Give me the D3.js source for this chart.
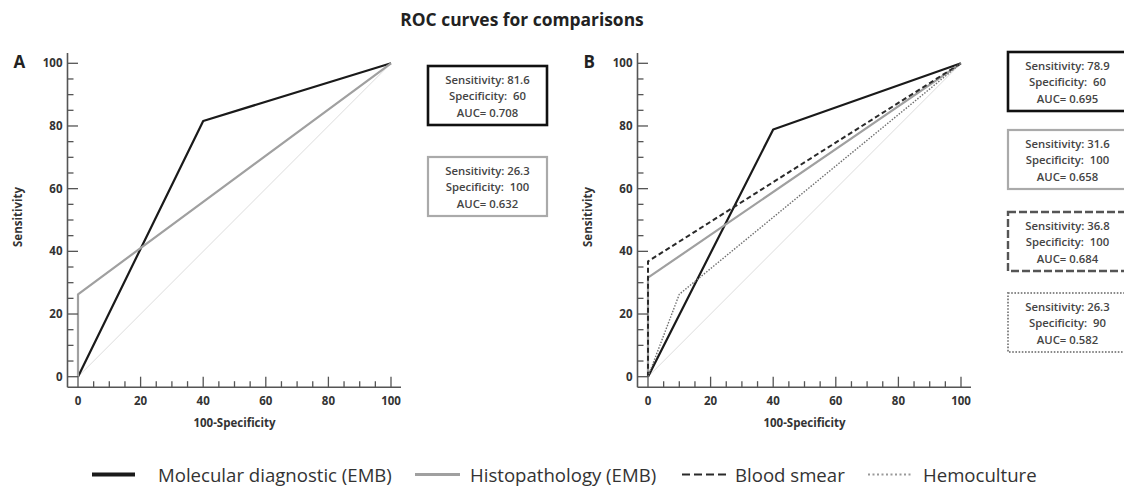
<!DOCTYPE html>
<html>
<head>
<meta charset="utf-8">
<script src="https://cdn.jsdelivr.net/npm/d3@7"></script>
<style>
  body { margin: 0; background: #fff; }
  svg { display: block; font-family: "Open Sans", "Noto Sans", sans-serif; }
</style>
</head>
<body>
<div id="chart"></div>
<script>
// ROC curves — two panels
const xMajor = [0, 20, 40, 60, 80, 100];
const yMajor = [0, 20, 40, 60, 80, 100];

const seriesNames = ['Molecular diagnostic (EMB)', 'Histopathology (EMB)', 'Blood smear', 'Hemoculture'];

// panel A
const molecularA = [[0, 0], [40, 81.6], [100, 100]];
const histoA = [[0, 0], [0, 26.3], [100, 100]];
const statsA = [
  ['Sensitivity: 81.6', 'Specificity:  60', 'AUC= 0.708'],
  ['Sensitivity: 26.3', 'Specificity:  100', 'AUC= 0.632']
];

// panel B
const molecularB = [[0, 0], [40, 78.9], [100, 100]];
const histoB = [[0, 0], [0, 31.6], [100, 100]];
const bloodB = [[0, 0], [0, 36.8], [100, 100]];
const hemoB = [[0, 0], [10, 26.3], [100, 100]];
const statsB = [
  ['Sensitivity: 78.9', 'Specificity:  60', 'AUC= 0.695'],
  ['Sensitivity: 31.6', 'Specificity:  100', 'AUC= 0.658'],
  ['Sensitivity: 36.8', 'Specificity:  100', 'AUC= 0.684'],
  ['Sensitivity: 26.3', 'Specificity:  90', 'AUC= 0.582']
];

const diagonal = [[0, 0], [100, 100]];

const STYLES = {
  molecular: { stroke: '#1a1a1a', width: 2.2, dash: null },
  histo: { stroke: '#a0a0a0', width: 2.2, dash: null },
  blood: { stroke: '#2a2a2a', width: 2, dash: '5,3' },
  hemo: { stroke: '#707070', width: 1.4, dash: '1.5,1.5' },
  diag: { stroke: '#dcdcdc', width: 1, dash: null }
};

// box outline per series
const BOX = {
  molecular: { stroke: '#111', width: 2.6, dash: null },
  histo: { stroke: '#aaa', width: 2.2, dash: null },
  blood: { stroke: '#555', width: 2.4, dash: '8,3' },
  hemo: { stroke: '#8a8a8a', width: 2, dash: '1.6,1.6' }
};

const W = 1124, H = 487;
const svg = d3.select('#chart').append('svg')
  .attr('width', W).attr('height', H);

svg.append('text')
  .attr('x', 522).attr('y', 26)
  .attr('text-anchor', 'middle')
  .attr('font-size', 17.4).attr('font-weight', 'bold').attr('fill', '#222')
  .text('ROC curves for comparisons');

function drawPanel(x0, label, curves, stats, boxX, boxYs) {
  const x = d3.scaleLinear().domain([0, 100]).range([x0, x0 + 313]);
  const y = d3.scaleLinear().domain([0, 100]).range([376.7, 63.3]);
  const off = 10.5;
  const axisX = x(0) - off, axisY = y(0) + off;
  const g = svg.append('g');
  const axisColor = '#555';

  // diagonal + curves
  const line = d3.line().x(d => x(d[0])).y(d => y(d[1]));
  g.append('path').datum(diagonal)
    .attr('d', line).attr('fill', 'none')
    .attr('stroke', STYLES.diag.stroke).attr('stroke-width', STYLES.diag.width);
  curves.forEach(c => {
    const s = STYLES[c.style];
    g.append('path').datum(c.data)
      .attr('d', line).attr('fill', 'none')
      .attr('stroke', s.stroke).attr('stroke-width', s.width)
      .attr('stroke-dasharray', s.dash)
      .attr('stroke-linejoin', 'round');
  });

  // offset axes, ticks pointing inward
  g.append('line')
    .attr('x1', axisX).attr('x2', axisX).attr('y1', 53).attr('y2', axisY)
    .attr('stroke', axisColor).attr('stroke-width', 1.6);
  g.append('line')
    .attr('x1', axisX).attr('x2', x(100) + 10).attr('y1', axisY).attr('y2', axisY)
    .attr('stroke', axisColor).attr('stroke-width', 1.6);

  const minor = d3.range(0, 101, 5);
  g.selectAll('.yt').data(minor).join('line')
    .attr('x1', axisX).attr('x2', d => axisX + (d % 20 === 0 ? off : 6))
    .attr('y1', d => y(d)).attr('y2', d => y(d))
    .attr('stroke', axisColor).attr('stroke-width', 1.3);
  g.selectAll('.xt').data(minor).join('line')
    .attr('y1', axisY).attr('y2', d => axisY - (d % 20 === 0 ? off : 6))
    .attr('x1', d => x(d)).attr('x2', d => x(d))
    .attr('stroke', axisColor).attr('stroke-width', 1.3);

  g.selectAll('.yl').data(yMajor).join('text')
    .attr('x', axisX - 5).attr('y', d => y(d)).attr('dy', '0.35em')
    .attr('text-anchor', 'end')
    .attr('font-size', 11.5).attr('font-weight', 'bold').attr('fill', '#333')
    .text(d => d);
  g.selectAll('.xl').data(xMajor).join('text')
    .attr('x', d => x(d)).attr('y', 404.5)
    .attr('text-anchor', 'middle')
    .attr('font-size', 11.5).attr('font-weight', 'bold').attr('fill', '#333')
    .text(d => d);

  g.append('text')
    .attr('x', x(50)).attr('y', 427).attr('text-anchor', 'middle')
    .attr('font-size', 11.5).attr('font-weight', 'bold').attr('fill', '#333')
    .text('100-Specificity');
  g.append('text')
    .attr('transform', `translate(${axisX - 46},217) rotate(-90)`)
    .attr('text-anchor', 'middle')
    .attr('font-size', 11.5).attr('font-weight', 'bold').attr('fill', '#333')
    .text('Sensitivity');

  g.append('text')
    .attr('x', axisX - 54).attr('y', 68)
    .attr('font-size', 17).attr('font-weight', 'bold').attr('fill', '#222')
    .text(label);

  // stat boxes
  stats.forEach((lines, i) => {
    const b = BOX[curves[i].style];
    const by = boxYs[i];
    g.append('rect')
      .attr('x', boxX).attr('y', by).attr('width', 119).attr('height', 59)
      .attr('fill', '#fff')
      .attr('stroke', b.stroke).attr('stroke-width', b.width)
      .attr('stroke-dasharray', b.dash);
    lines.forEach((t, j) => {
      g.append('text')
        .attr('x', boxX + 59.5).attr('y', by + 17.5 + j * 16.5)
        .attr('text-anchor', 'middle')
        .attr('font-size', 11.3).attr('font-weight', 600).attr('fill', '#444')
        .style('white-space', 'pre')
        .text(t);
    });
  });
}

drawPanel(78, 'A', [
  { style: 'molecular', data: molecularA },
  { style: 'histo', data: histoA }
], statsA, 428, [66, 157]);

drawPanel(648, 'B', [
  { style: 'molecular', data: molecularB },
  { style: 'histo', data: histoB },
  { style: 'blood', data: bloodB },
  { style: 'hemo', data: hemoB }
], statsB, 1008, [52, 130, 212, 293]);

// legend
const legendItems = [
  { name: seriesNames[0], style: 'molecular', x1: 92, x2: 135, tx: 158, w: 4, dash: null },
  { name: seriesNames[1], style: 'histo', x1: 415, x2: 460, tx: 470, w: 3, dash: null },
  { name: seriesNames[2], style: 'blood', x1: 682, x2: 728, tx: 735, w: 2.2, dash: '8,4' },
  { name: seriesNames[3], style: 'hemo', x1: 868, x2: 913, tx: 923, w: 2, dash: '2,2.5' }
];
const lg = svg.append('g');
legendItems.forEach(d => {
  const s = STYLES[d.style];
  lg.append('line')
    .attr('x1', d.x1).attr('x2', d.x2).attr('y1', 474.5).attr('y2', 474.5)
    .attr('stroke', d.style === 'hemo' ? '#999' : s.stroke).attr('stroke-width', d.w)
    .attr('stroke-dasharray', d.dash);
  lg.append('text')
    .attr('x', d.tx).attr('y', 481.5)
    .attr('font-size', 18.6).attr('fill', '#333')
    .text(d.name);
});
</script>
</body>
</html>
